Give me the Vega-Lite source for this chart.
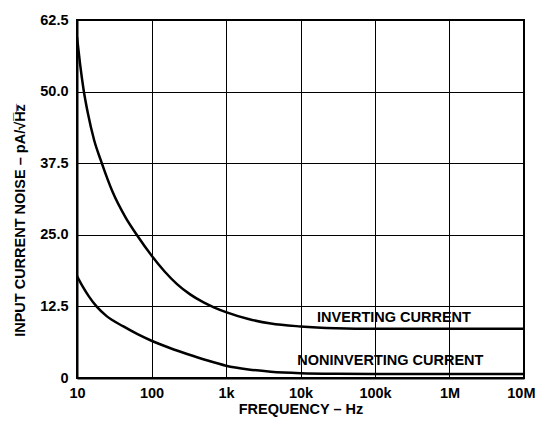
{
  "$schema": "https://vega.github.io/schema/vega-lite/v6.json",
  "autosize": "none",
  "width": 447,
  "height": 358,
  "padding": {"left": 77, "top": 20, "right": 12, "bottom": 43},
  "background": "white",
  "config": {
    "view": {"stroke": "black", "strokeWidth": 2},
    "font": "Liberation Sans",
    "axis": {
      "labelFont": "Liberation Sans", "labelFontWeight": "bold", "labelFontSize": 14.5, "labelColor": "black",
      "titleFont": "Liberation Sans", "titleFontWeight": "bold", "titleFontSize": 14.5, "titleColor": "black",
      "gridColor": "black", "gridOpacity": 1, "gridWidth": 1,
      "domainColor": "black", "domainWidth": 2, "ticks": false
    }
  },
  "datasets": {
    "curves": [
      {"series": "inv", "f": 10, "v": 59.5},
      {"series": "inv", "f": 11, "v": 54.8},
      {"series": "inv", "f": 12.2, "v": 50.5},
      {"series": "inv", "f": 14, "v": 46.2},
      {"series": "inv", "f": 17, "v": 41.5},
      {"series": "inv", "f": 21, "v": 37.9},
      {"series": "inv", "f": 30, "v": 32.5},
      {"series": "inv", "f": 45, "v": 28.0},
      {"series": "inv", "f": 65, "v": 24.8},
      {"series": "inv", "f": 100, "v": 21.4},
      {"series": "inv", "f": 150, "v": 18.6},
      {"series": "inv", "f": 220, "v": 16.4},
      {"series": "inv", "f": 330, "v": 14.6},
      {"series": "inv", "f": 500, "v": 13.2},
      {"series": "inv", "f": 700, "v": 12.3},
      {"series": "inv", "f": 1000, "v": 11.5},
      {"series": "inv", "f": 2000, "v": 10.3},
      {"series": "inv", "f": 4000, "v": 9.5},
      {"series": "inv", "f": 10000, "v": 9.0},
      {"series": "inv", "f": 30000, "v": 8.7},
      {"series": "inv", "f": 100000, "v": 8.6},
      {"series": "inv", "f": 10000000, "v": 8.6},
      {"series": "non", "f": 10, "v": 17.8},
      {"series": "non", "f": 12, "v": 15.9},
      {"series": "non", "f": 14.5, "v": 14.2},
      {"series": "non", "f": 18.4, "v": 12.45},
      {"series": "non", "f": 25, "v": 10.8},
      {"series": "non", "f": 42, "v": 9.0},
      {"series": "non", "f": 65, "v": 7.65},
      {"series": "non", "f": 100, "v": 6.5},
      {"series": "non", "f": 180, "v": 5.2},
      {"series": "non", "f": 300, "v": 4.2},
      {"series": "non", "f": 550, "v": 3.1},
      {"series": "non", "f": 1000, "v": 2.15},
      {"series": "non", "f": 2000, "v": 1.5},
      {"series": "non", "f": 4000, "v": 1.1},
      {"series": "non", "f": 10000, "v": 0.85},
      {"series": "non", "f": 30000, "v": 0.75},
      {"series": "non", "f": 100000, "v": 0.72},
      {"series": "non", "f": 10000000, "v": 0.72}
    ],
    "labels": [
      {"label": "INVERTING CURRENT", "f": 180000, "v": 10.5},
      {"label": "NONINVERTING CURRENT", "f": 161000, "v": 3.0}
    ]
  },
  "layer": [
    {
      "data": {"name": "curves"},
      "mark": {"type": "line", "interpolate": "monotone", "color": "black", "strokeWidth": 2.5, "clip": true},
      "encoding": {
        "x": {
          "field": "f", "type": "quantitative",
          "scale": {"type": "log", "domain": [10, 10000000], "nice": false},
          "axis": {
            "title": "FREQUENCY – Hz", "titlePadding": 3,
            "values": [10, 100, 1000, 10000, 100000, 1000000, 10000000],
            "labelExpr": "datum.value >= 1000000 ? format(datum.value/1000000,'d') + 'M' : datum.value >= 1000 ? format(datum.value/1000,'d') + 'k' : format(datum.value,'d')",
            "labelAlign": {"condition": {"test": "datum.value >= 10000000", "value": "right"}, "value": "center"},
            "labelOffset": {"condition": {"test": "datum.value >= 10000000", "value": 11}, "value": 0},
            "labelPadding": 8, "labelFlush": false, "grid": true
          }
        },
        "y": {
          "field": "v", "type": "quantitative",
          "scale": {"domain": [0, 62.5], "nice": false},
          "axis": {
            "title": "INPUT CURRENT NOISE – pA/√H̅z̅", "titlePadding": 12, "titleY": 200,
            "values": [0, 12.5, 25, 37.5, 50, 62.5],
            "labelExpr": "datum.value == 0 ? '0' : format(datum.value, '.1f')",
            "labelPadding": 9, "labelFlush": false, "grid": true
          }
        },
        "detail": {"field": "series"}
      }
    },
    {
      "data": {"name": "labels"},
      "mark": {"type": "text", "font": "Liberation Sans", "fontWeight": "bold", "fontSize": 14.5, "color": "black", "align": "center", "baseline": "middle"},
      "encoding": {
        "x": {"field": "f", "type": "quantitative"},
        "y": {"field": "v", "type": "quantitative"},
        "text": {"field": "label"}
      }
    }
  ]
}
